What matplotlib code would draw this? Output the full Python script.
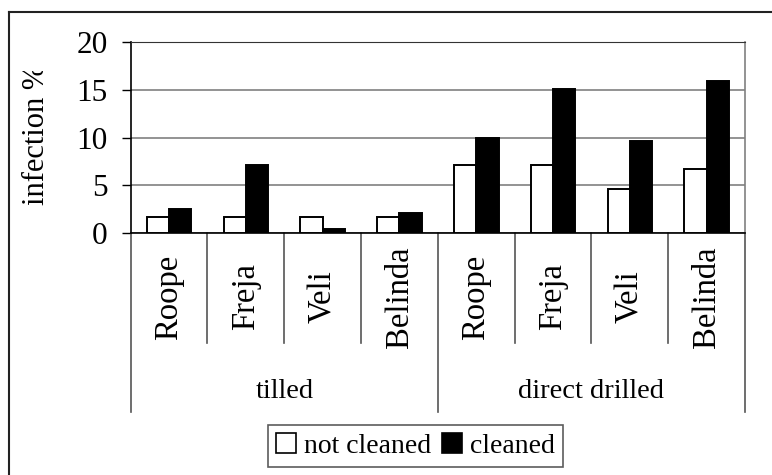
import numpy as np
import matplotlib
matplotlib.use("Agg")
import matplotlib.pyplot as plt
from matplotlib.lines import Line2D
from matplotlib.patches import Patch
from matplotlib.transforms import Bbox

plt.rcParams['font.family'] = ['Liberation Serif', 'DejaVu Serif']

varieties = ["Roope", "Freja", "Veli", "Belinda"]
groups = ["tilled", "direct drilled"]
not_cleaned = [1.7, 1.7, 1.7, 1.7, 7.1, 7.1, 4.6, 6.7]
cleaned = [2.5, 7.1, 0.4, 2.1, 10.0, 15.1, 9.7, 15.9]

W, H = 772, 475
fig = plt.figure(figsize=(W / 100, H / 100), dpi=100)
ax = fig.add_axes([130.7 / W, 1 - 233.3 / H, (745 - 130.7) / W, (233.3 - 42) / H])

n = len(not_cleaned)
x = np.arange(n) + 0.5
w = 0.29
ax.bar(x - w / 2, not_cleaned, w, color="white", edgecolor="black", linewidth=1.4, zorder=3)
ax.bar(x + w / 2, cleaned, w, color="black", edgecolor="black", linewidth=1.4, zorder=3)

ax.set_xlim(0, n)
ax.set_ylim(0, 20)
ax.set_yticks([0, 5, 10, 15, 20])
ax.tick_params(axis="y", direction="out", length=6.5, width=1, pad=10, labelsize=22.5)
ax.set_xticks([])
ax.yaxis.grid(True, color="#808080", linewidth=1.2, zorder=0)
ax.set_axisbelow(True)
for s in ["left", "bottom"]:
    ax.spines[s].set_color("black")
    ax.spines[s].set_linewidth(1.2)
ax.spines["top"].set_color("#333333")
ax.spines["right"].set_color("#808080")
ax.spines["right"].set_linewidth(1.2)

# category axis: separators and labels
tr = ax.get_xaxis_transform()
names = varieties * len(groups)
for i in range(n + 1):
    ybot = -0.9326 if i % len(varieties) == 0 else -0.573
    ax.plot([i, i], [0, ybot], color="#555555", lw=1.2, transform=tr, clip_on=False)
for i, name in enumerate(names):
    ax.text(x[i], -0.333, name, rotation=90, ha="center", va="center",
            fontsize=23.5, transform=tr)
for g, label in enumerate(groups):
    ax.text(len(varieties) * (g + 0.5), -0.829, label, ha="center", va="center",
            fontsize=20.5, transform=tr)

ylab = fig.text(37 / W, 1 - 134 / H, "infection %", rotation=90, ha="center",
                va="center", fontsize=22)
ylab.set_clip_box(Bbox.from_extents(0, 0, W, H - 71))
ylab.set_clip_on(True)

handles = [Patch(facecolor="white", edgecolor="black", linewidth=1.2),
           Patch(facecolor="black", edgecolor="black", linewidth=1.2)]
leg = fig.legend(handles, ["not cleaned", "cleaned"], loc="center",
                 bbox_to_anchor=(415.5 / W, 1 - 446 / H), ncol=2, fontsize=20,
                 frameon=True, fancybox=False, handlelength=0.7, handleheight=0.7,
                 handletextpad=0.3, columnspacing=0.4, borderpad=0.3)
leg.get_frame().set_edgecolor("#333333")
leg.get_frame().set_linewidth(1.2)

# outer chart frame (left and top only visible)
fig.add_artist(Line2D([9 / W, 1], [1 - 12 / H, 1 - 12 / H], color="#222222", lw=1.5))
fig.add_artist(Line2D([9 / W, 9 / W], [0, 1 - 12 / H], color="#222222", lw=1.5))

fig.savefig("out.png", dpi=100)
